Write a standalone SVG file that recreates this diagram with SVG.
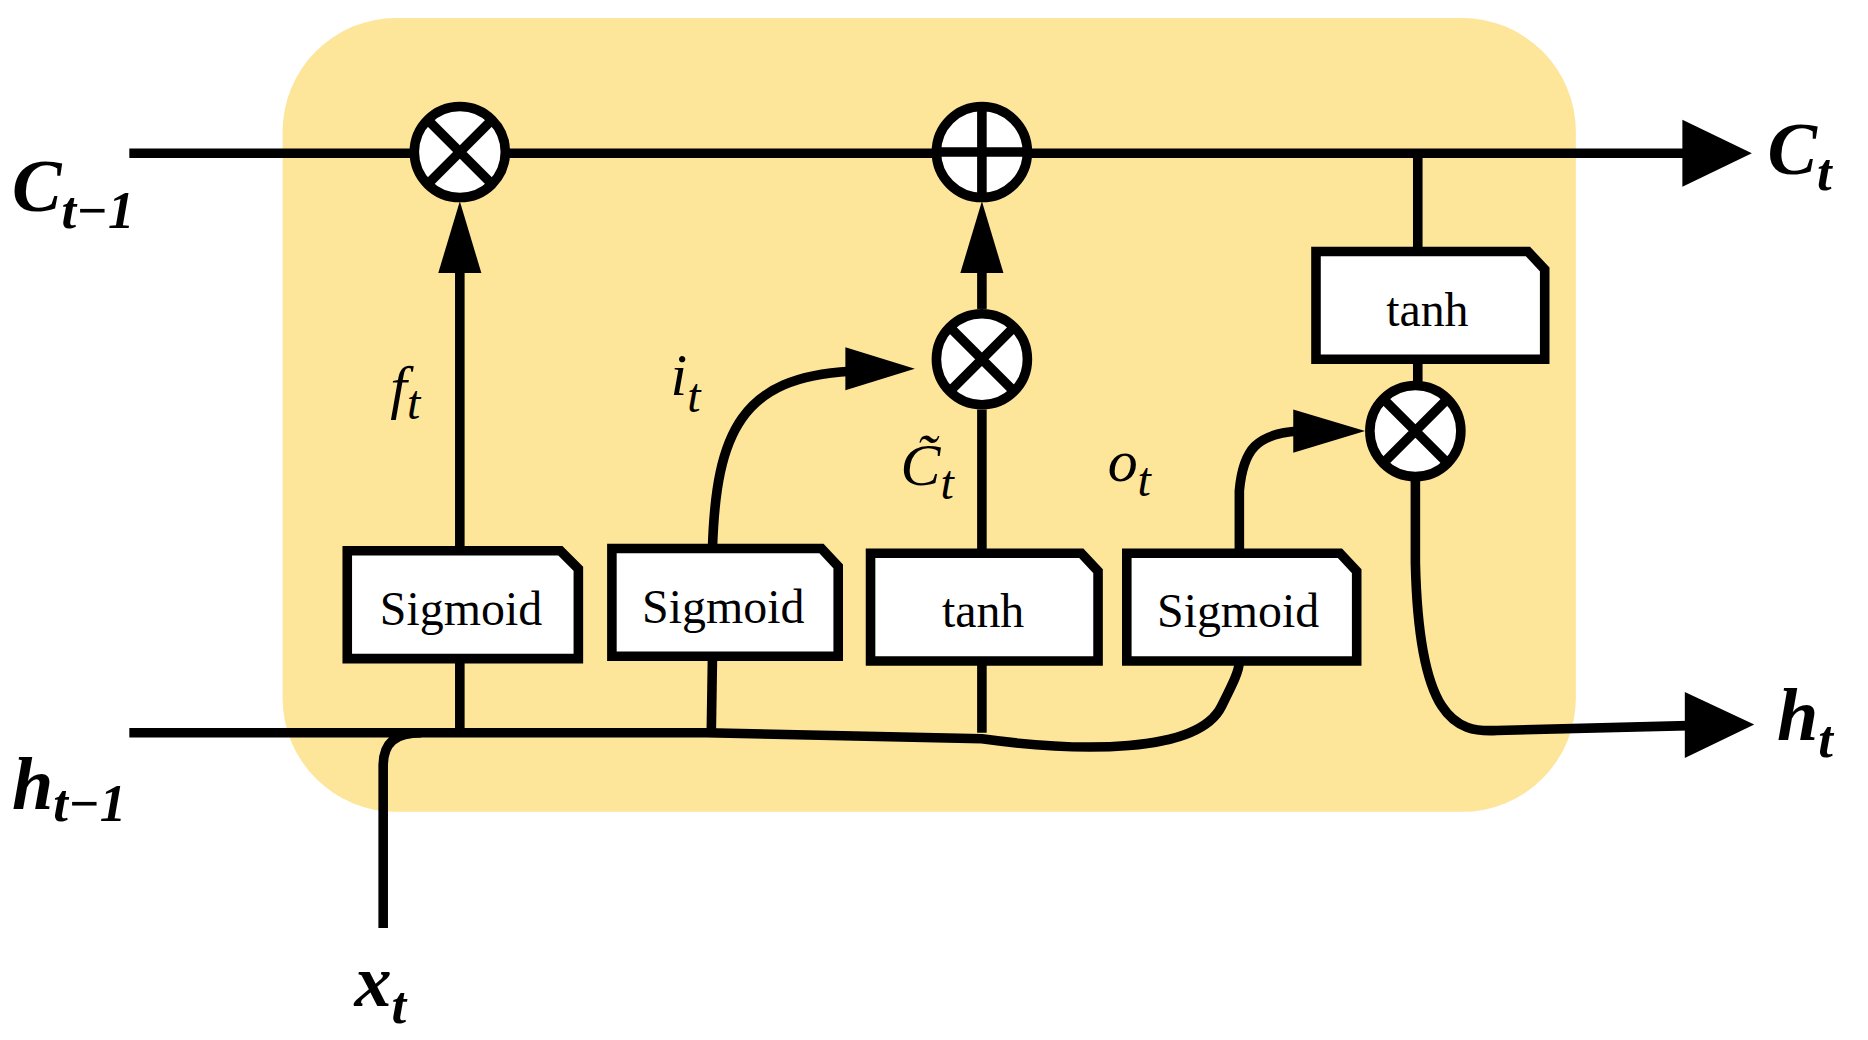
<svg xmlns="http://www.w3.org/2000/svg" width="1868" height="1040" viewBox="0 0 1868 1040">
<style>
.ln{fill:none;stroke:#000;stroke-width:8}
.bx{fill:#fff;stroke:#000;stroke-width:8;stroke-linejoin:miter}
.op{fill:#fff;stroke:#000;stroke-width:8}
.bt{font-family:"Liberation Serif",serif;font-size:40px;text-anchor:middle}
.m{font-family:"Liberation Serif",serif;font-style:italic;font-size:50px}
.mb{font-family:"Liberation Serif",serif;font-style:italic;font-weight:bold;font-size:62px}
.sb{font-size:44px}
</style>
<defs>
<marker id="ah" viewBox="0 0 10 10" refX="10" refY="5" markerWidth="7" markerHeight="7" markerUnits="userSpaceOnUse" orient="auto"><path d="M0,0L10,5L0,10Z"/></marker>
</defs>
<rect width="1868" height="1040" fill="#fff"/>
<g transform="scale(1.19744)">
<rect id="cell" x="236" y="15" width="1080" height="663" rx="95" fill="#FDE59A"/>
<g id="connectors">
<path class="ln" d="M108,128H1410"/>
<path d="M1405,100L1463,128L1405,156Z"/>
<path class="ln" d="M108,612H590L820,617C900,628 1000,630 1020,590C1030,570 1035,560 1035,552"/>
<path class="ln" d="M320,775V640C320,620 330,612 352,612"/>
<path class="ln" d="M384,550V612M595,548L594,612M820,552V612"/>
<path class="ln" d="M384,460V225"/>
<path d="M366,228L384,168L402,228Z"/>
<path class="ln" d="M820,462V342"/>
<path class="ln" d="M820,258V225"/>
<path d="M802,228L820,168L838,228Z"/>
<path class="ln" d="M595,458C598,360 620,315 710,310"/>
<path d="M706,290L764,308L706,326Z"/>
<path class="ln" d="M1035,462V410C1038,375 1050,362 1085,360"/>
<path d="M1080,342L1140,360L1080,378Z"/>
<path class="ln" d="M1184,128V210M1184,300V322"/>
<path class="ln" d="M1182,398V470C1185,600 1215,612 1250,610L1410,606"/>
<path d="M1407,578L1465,605L1407,633Z"/>
</g>
<g id="op1"><circle class="op" cx="384" cy="127" r="38"/><path class="ln" d="M358,101L410,153M410,101L358,153"/></g>
<g id="op2"><circle class="op" cx="820" cy="127" r="38"/><path class="ln" d="M820,89V165M782,127H858"/></g>
<g id="op3"><circle class="op" cx="820" cy="300" r="38"/><path class="ln" d="M794,274L846,326M846,274L794,326"/></g>
<g id="op4"><circle class="op" cx="1182" cy="360" r="38"/><path class="ln" d="M1156,334L1208,386M1208,334L1156,386"/></g>
<g id="b1"><path class="bx" d="M290,460H468L483,475V550H290Z"/><text class="bt" x="385" y="522">Sigmoid</text></g>
<g id="b2"><path class="bx" d="M511,458H686L700,473V548H511Z"/><text class="bt" x="604" y="520">Sigmoid</text></g>
<g id="b3"><path class="bx" d="M727,462H903L917,477V552H727Z"/><text class="bt" x="821" y="524">tanh</text></g>
<g id="b4"><path class="bx" d="M941,462H1119L1133,477V552H941Z"/><text class="bt" x="1034" y="524">Sigmoid</text></g>
<g id="b5"><path class="bx" d="M1099,210H1276L1290,225V300H1099Z"/><text class="bt" x="1192" y="272">tanh</text></g>
<g id="labels">
<text class="mb" x="10" y="176">C<tspan class="sb" dy="14">t−1</tspan></text>
<text class="mb" x="1476" y="145">C<tspan class="sb" dy="14">t</tspan></text>
<text class="mb" x="10" y="676">h<tspan class="sb" dy="10">t−1</tspan></text>
<text class="mb" x="1484" y="618">h<tspan class="sb" dy="14">t</tspan></text>
<text class="mb" x="296" y="840">x<tspan class="sb" dy="14">t</tspan></text>
<text class="m" x="326" y="340">f<tspan font-size="40" dy="10">t</tspan></text>
<text class="m" x="560" y="330">i<tspan font-size="40" dy="14">t</tspan></text>
<text class="m" x="752" y="405">C̃<tspan font-size="40" dy="12">t</tspan></text>
<text class="m" x="925" y="402">o<tspan font-size="40" dy="12">t</tspan></text>
</g>
</g>
</svg>
